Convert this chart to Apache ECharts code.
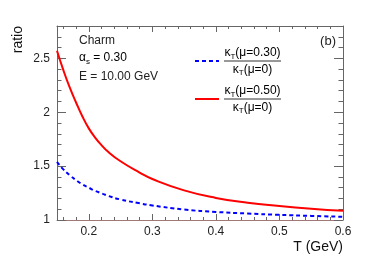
<!DOCTYPE html>
<html>
<head>
<meta charset="utf-8">
<script src="https://cdn.jsdelivr.net/npm/echarts@6/dist/echarts.min.js"></script>
<style>html,body{margin:0;padding:0;background:#fff}#c{width:381px;height:260px}</style>
</head>
<body>
<div id="c"></div>
<script>
// ---- data ----
const temps = [0.15, 0.16, 0.17, 0.18, 0.19, 0.20, 0.21, 0.22, 0.23, 0.25, 0.28, 0.30, 0.35, 0.40, 0.45, 0.50, 0.55, 0.60];
const ratioMu050 = [2.57, 2.39, 2.23, 2.09, 1.96, 1.85, 1.765, 1.695, 1.635, 1.545, 1.44, 1.38, 1.275, 1.205, 1.16, 1.13, 1.105, 1.085];
const ratioMu030 = [1.54, 1.47, 1.415, 1.37, 1.33, 1.30, 1.27, 1.248, 1.225, 1.19, 1.155, 1.135, 1.097, 1.075, 1.06, 1.048, 1.038, 1.03];

const xMajorTicks = [0.2, 0.3, 0.4, 0.5, 0.6];
const xMinorTicks = [0.16, 0.18, 0.22, 0.24, 0.26, 0.28, 0.32, 0.34, 0.36, 0.38, 0.42, 0.44, 0.46, 0.48, 0.52, 0.54, 0.56, 0.58];
const yMajorTicks = [1, 1.5, 2, 2.5];
const yMinorTicks = [1.1, 1.2, 1.3, 1.4, 1.6, 1.7, 1.8, 1.9, 2.1, 2.2, 2.3, 2.4, 2.6, 2.7];

const xRange = [0.15, 0.6];
const yRange = [1.0, 2.8];

const FONT = '"Liberation Sans", Arial, Helvetica, sans-serif';
const AXC = '#666';

function xAx(pos, ticks, len, showLine, showLabel, lineColor) {
  return {
    type: 'value', gridIndex: 0, position: pos, min: xRange[0], max: xRange[1],
    axisLine: { show: showLine, onZero: false, lineStyle: { color: lineColor || AXC, width: 1 } },
    axisTick: { show: true, inside: true, length: len, customValues: ticks, lineStyle: { color: AXC, width: 1 } },
    axisLabel: showLabel ? { show: true, customValues: ticks, margin: 6, color: '#222', fontSize: 12, fontFamily: FONT,
      formatter: v => String(Math.round(v * 10) / 10) } : { show: false },
    splitLine: { show: false }
  };
}
function yAx(pos, ticks, len, showLine, showLabel) {
  return {
    type: 'value', gridIndex: 0, position: pos, min: yRange[0], max: yRange[1],
    axisLine: { show: showLine, onZero: false, lineStyle: { color: AXC, width: 1 } },
    axisTick: { show: true, inside: true, length: len, customValues: ticks, lineStyle: { color: AXC, width: 1 } },
    axisLabel: showLabel ? { show: true, customValues: ticks, margin: 7, color: '#222', fontSize: 12, fontFamily: FONT,
      formatter: v => String(Math.round(v * 10) / 10) } : { show: false },
    splitLine: { show: false }
  };
}

const chart = echarts.init(document.getElementById('c'), null, { renderer: 'canvas' });

const richCommon = {
  a: { fontSize: 12, fontFamily: FONT, color: '#222', lineHeight: 15, verticalAlign: 'middle' },
  s: { fontSize: 8, fontFamily: FONT, color: '#222', verticalAlign: 'bottom' }
};

function fraction(cx, cy, num) {
  return [
    { type: 'text', x: cx, y: cy - 8, style: { text: '{a|κ}{s|T}{a|(μ=' + num + ')}', rich: richCommon, align: 'center', verticalAlign: 'middle' } },
    { type: 'line', shape: { x1: cx - 28.5, y1: cy, x2: cx + 28.5, y2: cy }, style: { stroke: '#333', lineWidth: 1 } },
    { type: 'text', x: cx, y: cy + 8.5, style: { text: '{a|κ}{s|T}{a|(μ=0)}', rich: richCommon, align: 'center', verticalAlign: 'middle' } }
  ];
}

chart.setOption({
  animation: false,
  backgroundColor: '#fff',
  grid: { left: 57, right: 38, top: 26, bottom: 40, containLabel: false },
  xAxis: [
    xAx('bottom', xMajorTicks, 6, true, true, '#a07878'),
    xAx('bottom', xMinorTicks, 3, false, false),
    xAx('top', xMajorTicks, 6, true, false),
    xAx('top', xMinorTicks, 3, false, false)
  ],
  yAxis: [
    yAx('left', yMajorTicks, 9, true, true),
    yAx('left', yMinorTicks, 4.5, false, false),
    yAx('right', yMajorTicks, 9, true, false),
    yAx('right', yMinorTicks, 4.5, false, false)
  ],
  series: [
    { name: 'mu030', type: 'line', xAxisIndex: 0, yAxisIndex: 0, smooth: true, showSymbol: false, symbol: 'none',
      data: temps.map((t, i) => [t, ratioMu030[i]]),
      lineStyle: { color: '#0000ff', width: 2, type: [4, 3] } },
    { name: 'mu050', type: 'line', xAxisIndex: 0, yAxisIndex: 0, smooth: true, showSymbol: false, symbol: 'none',
      data: temps.map((t, i) => [t, ratioMu050[i]]),
      lineStyle: { color: '#ff0000', width: 2 } }
  ],
  graphic: [
    { type: 'text', x: 18, y: 26, rotation: Math.PI / 2, style: { text: 'ratio', fontSize: 14, fontFamily: FONT, fill: '#111', align: 'right', verticalAlign: 'middle' } },
    { type: 'text', x: 343, y: 247, style: { text: 'T (GeV)', fontSize: 14, fontFamily: FONT, fill: '#111', align: 'right', verticalAlign: 'middle' } },
    { type: 'text', x: 79, y: 41, style: { text: 'Charm', fontSize: 12, fontFamily: FONT, fill: '#222', align: 'left', verticalAlign: 'middle' } },
    { type: 'text', x: 79, y: 58, style: { text: '{a|α}{s|s}{a| = 0.30}', rich: richCommon, align: 'left', verticalAlign: 'middle' } },
    { type: 'text', x: 79, y: 77, style: { text: 'E = 10.00 GeV', fontSize: 12, fontFamily: FONT, fill: '#222', align: 'left', verticalAlign: 'middle' } },
    { type: 'text', x: 336, y: 41, style: { text: '(b)', fontSize: 13, fontFamily: FONT, fill: '#222', align: 'right', verticalAlign: 'middle' } },
    { type: 'line', shape: { x1: 195, y1: 61, x2: 219, y2: 61 }, style: { stroke: '#0000ff', lineWidth: 2, lineDash: [4, 3] } },
    { type: 'line', shape: { x1: 195, y1: 99, x2: 219, y2: 99 }, style: { stroke: '#ff0000', lineWidth: 2 } },
    ...fraction(252.5, 61, '0.30'),
    ...fraction(252.5, 99, '0.50')
  ]
});
</script>
</body>
</html>
